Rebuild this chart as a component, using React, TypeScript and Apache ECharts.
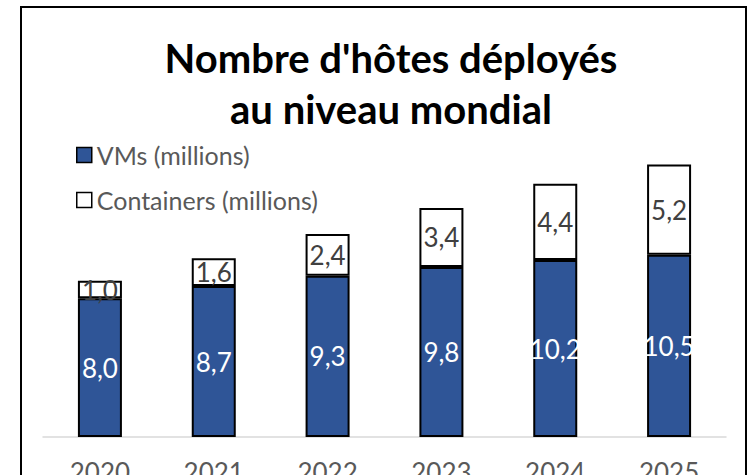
import React, { useEffect, useRef } from "react";
import * as echarts from "echarts";

const years = ["2020", "2021", "2022", "2023", "2024", "2025"];
const vms = [8.0, 8.7, 9.3, 9.8, 10.2, 10.5];
const containers = [1.0, 1.6, 2.4, 3.4, 4.4, 5.2];
const seriesNames = ["VMs (millions)", "Containers (millions)"];
const titleText = "Nombre d'hôtes déployés\nau niveau mondial";

const FONT = "Lato";
const fmt = (v: number) => v.toFixed(1).replace(".", ",");

export default function App() {
  const ref = useRef<HTMLDivElement>(null);
  useEffect(() => {
    document.body.style.margin = "0";
    const chart = echarts.init(ref.current!, null, { renderer: "svg" });
    chart.setOption({
      animation: false,
      backgroundColor: "#ffffff",
      title: {
        text: titleText,
        left: 386,
        top: 27,
        textAlign: "center",
        textStyle: {
          fontFamily: FONT,
          fontWeight: "bold",
          fontSize: 40,
          lineHeight: 51,
          color: "#000000",
        },
      },
      legend: {
        orient: "vertical",
        left: 71,
        top: 137,
        itemWidth: 15,
        itemHeight: 15,
        itemGap: 19,
        icon: "rect",
        textStyle: { fontFamily: FONT, fontSize: 25, lineHeight: 26, color: "#595959" },
        data: [
          { name: seriesNames[0], itemStyle: { color: "#2F5597", borderColor: "#000", borderWidth: 1.5 } },
          { name: seriesNames[1], itemStyle: { color: "#ffffff", borderColor: "#000", borderWidth: 1.5 } },
        ],
      },
      grid: { left: 43, right: 27, top: 90, bottom: 38, containLabel: false, outerBoundsMode: "none" },
      xAxis: {
        type: "category",
        data: years,
        axisLine: { lineStyle: { color: "#D9D9D9", width: 1.5 } },
        axisTick: { show: false },
        axisLabel: { fontFamily: FONT, fontSize: 26, color: "#595959", margin: 22 },
      },
      yAxis: { type: "value", min: 0, max: 20, show: false, splitLine: { show: false } },
      series: [
        {
          name: seriesNames[0],
          type: "bar",
          stack: "total",
          barWidth: 44,
          data: vms,
          itemStyle: { color: "#2F5597", borderColor: "#000", borderWidth: 2 },
          label: {
            show: true,
            position: "inside",
            formatter: (p: any) => fmt(p.value),
            fontFamily: FONT,
            fontSize: 26,
            color: "#ffffff",
          },
        },
        {
          name: seriesNames[1],
          type: "bar",
          stack: "total",
          barWidth: 44,
          data: containers,
          itemStyle: { color: "#ffffff", borderColor: "#000", borderWidth: 2 },
          label: {
            show: true,
            position: "inside",
            formatter: (p: any) => fmt(p.value),
            fontFamily: FONT,
            fontSize: 26,
            color: "#404040",
          },
        },
      ],
      graphic: [
        {
          type: "rect",
          shape: { x: 21, y: 7, width: 725, height: 520 },
          style: { fill: "none", stroke: "#000", lineWidth: 2 },
          silent: true,
        },
      ],
    });
    return () => chart.dispose();
  }, []);
  return <div ref={ref} style={{ width: 753, height: 475 }} />;
}
